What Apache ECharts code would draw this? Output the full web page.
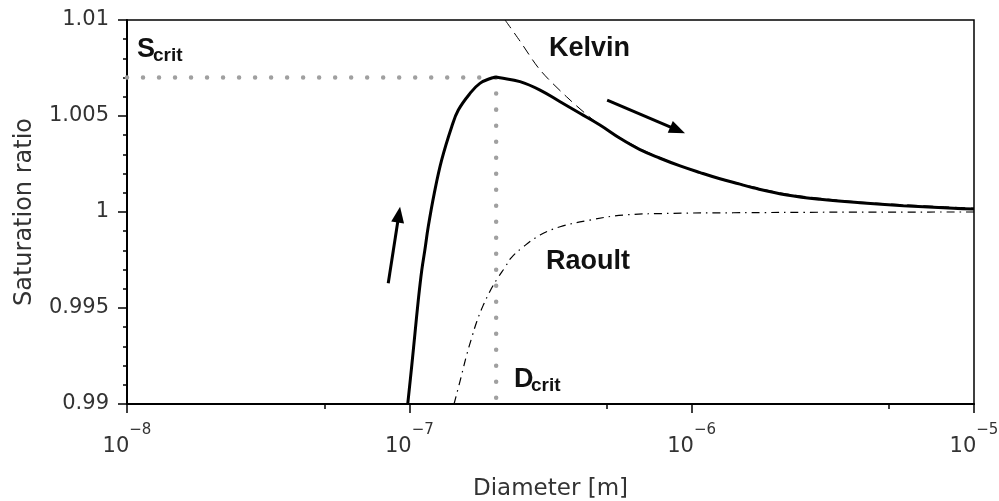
<!DOCTYPE html>
<html lang="en">
<head>
    <meta charset="UTF-8">
    <title>kohler</title>
    <script src="https://cdn.jsdelivr.net/npm/echarts@6/dist/echarts.min.js"></script>
</head>
<body style="margin:0;background:#fff;">
<div id="main" style="width: 999px;height:501px;"></div>
<script type="text/javascript">
    // curve readings: diameter [m] and saturation ratio
    var diamKohler = [9.87e-8, 1.019e-7, 1.047e-7, 1.076e-7, 1.107e-7, 1.135e-7, 1.167e-7, 1.2255e-7, 1.302e-7, 1.413e-7,
        1.491e-7, 1.641e-7, 1.778e-7, 1.958e-7, 2.03e-7, 2.094e-7, 2.466e-7, 2.904e-7, 3.42e-7, 4.018e-7, 4.732e-7,
        5.572e-7, 6.561e-7, 7.727e-7, 9.099e-7, 1.072e-6, 1.259e-6, 1.483e-6, 1.652e-6, 2.173e-6, 2.851e-6, 3.945e-6,
        5.623e-6, 8.45e-6, 1e-5];
    var satKohler = [0.9900, 0.99194, 0.99368, 0.99542, 0.99698, 0.99802, 0.99924, 1.00097, 1.00271, 1.00444,
        1.00531, 1.00618, 1.0067, 1.00698, 1.00702, 1.00699, 1.00679, 1.00635, 1.00574, 1.00514, 1.00453,
        1.00384, 1.00325, 1.0028, 1.0024, 1.00205, 1.00173, 1.00145, 1.00126, 1.00089, 1.00066, 1.00048,
        1.00033, 1.00020, 1.00016];

    var diamKelvin = [2.183e-7, 2.466e-7, 2.904e-7, 3.606e-7, 4.477e-7, 5.26e-7, 6.561e-7, 7.727e-7, 1e-6, 1.5e-6,
        2.173e-6, 3.945e-6, 1e-5];
    var satKelvin = [1.0100, 1.0089, 1.0074, 1.0060, 1.0048, 1.0041, 1.0033, 1.00284, 1.00218, 1.00146,
        1.00094, 1.00052, 1.0002];

    var diamRaoult = [1.44e-7, 1.531e-7, 1.596e-7, 1.671e-7, 1.734e-7, 1.828e-7, 1.959e-7, 2.065e-7, 2.183e-7, 2.29e-7,
        2.535e-7, 2.904e-7, 3.42e-7, 4.365e-7, 5.728e-7, 8.61e-7, 1.403e-6, 3.16e-6, 1e-5];
    var satRaoult = [0.9900, 0.99150, 0.99255, 0.99355, 0.9943, 0.99515, 0.99605, 0.99660, 0.99712, 0.9976,
        0.99819, 0.9988, 0.99923, 0.99958, 0.99984, 0.99993, 0.99996, 0.99999, 1.0];

    var sCrit = 1.007;
    var dCrit = 2.03e-7;

    // arrows: [tail, head] as [diameter, saturation]
    var arrowUp = [[8.42e-8, 0.99629], [9.18e-8, 0.99986]];
    var arrowDown = [[5.02e-7, 1.00583], [8.92e-7, 1.00427]];

    var xMinorTicks = [5e-8, 5e-7, 5e-6];

    function zip(a, b) {
        var out = [];
        for (var i = 0; i < a.length; i++) out.push([a[i], b[i]]);
        return out;
    }

    var myChart = echarts.init(document.getElementById('main'));
    var labelColor = '#333';

    var option = {
        animation: false,
        backgroundColor: '#fff',
        grid: {
            left: 127, right: 25, top: 20, bottom: 97,
            outerBoundsMode: 'none', containLabel: false,
            show: true, borderColor: '#000', borderWidth: 1.5
        },
        xAxis: [
            {
                type: 'log', logBase: 10, min: 1e-8, max: 1e-5,
                name: 'Diameter [m]', nameLocation: 'middle', nameGap: 74,
                nameTextStyle: {fontFamily: 'DejaVu Sans', fontSize: 23, color: labelColor},
                axisLine: {lineStyle: {color: '#000', width: 2}},
                axisTick: {length: 9, lineStyle: {color: '#000', width: 1.5}},
                minorTick: {show: false},
                splitLine: {show: false},
                axisLabel: {
                    margin: 19, fontFamily: 'DejaVu Sans', fontSize: 21, lineHeight: 48, color: labelColor,
                    formatter: function (v) {
                        var e = Math.round(Math.log10(v));
                        return '10{s|\u2212' + (-e) + '}';
                    },
                    rich: {
                        s: {fontFamily: 'DejaVu Sans', fontSize: 15, color: labelColor, lineHeight: 17, verticalAlign: 'top'}
                    }
                }
            },
            {
                type: 'log', logBase: 10, min: 1e-8, max: 1e-5, position: 'bottom',
                axisLine: {show: false},
                axisLabel: {show: false},
                splitLine: {show: false},
                axisTick: {show: true, length: 5, customValues: xMinorTicks, lineStyle: {color: '#000', width: 1.5}}
            }
        ],
        yAxis: {
            type: 'value', min: 0.99, max: 1.01, interval: 0.005,
            name: 'Saturation ratio', nameLocation: 'middle', nameGap: 90,
            nameTextStyle: {fontFamily: 'DejaVu Sans', fontSize: 24, color: labelColor},
            axisLine: {show: true, lineStyle: {color: '#000', width: 2}},
            axisTick: {show: true, length: 9, lineStyle: {color: '#000', width: 1.5}},
            minorTick: {show: true, splitNumber: 5, length: 4, lineStyle: {color: '#000', width: 1.5}},
            splitLine: {show: false},
            axisLabel: {
                margin: 18, fontFamily: 'DejaVu Sans', fontSize: 21, color: labelColor,
                formatter: function (v) { return String(+v.toFixed(3)); }
            }
        },
        series: [
            {
                name: 'Raoult', type: 'line', data: zip(diamRaoult, satRaoult), showSymbol: false, smooth: 0.4,
                lineStyle: {color: '#000', width: 1.2, type: [8, 5, 1.5, 5]}, z: 3
            },
            {
                name: 'Kelvin', type: 'line', data: zip(diamKelvin, satKelvin), showSymbol: false, smooth: 0.3,
                lineStyle: {color: '#000', width: 1, type: [10, 6]}, z: 3
            },
            {
                name: 'Scrit', type: 'line', data: [[1e-8, sCrit], [dCrit, sCrit]], showSymbol: false,
                lineStyle: {color: '#a0a0a0', width: 4.5, cap: 'round', type: [0.01, 16]}, z: 2
            },
            {
                name: 'Dcrit', type: 'line', data: [[dCrit, sCrit], [dCrit, 0.99]], showSymbol: false,
                lineStyle: {color: '#a0a0a0', width: 4.5, cap: 'round', type: [0.01, 16]}, z: 2
            },
            {
                name: 'Kohler', type: 'line', data: zip(diamKohler, satKohler), showSymbol: false, smooth: 0.4,
                lineStyle: {color: '#000', width: 3}, z: 5
            },
            {
                name: 'arrows', type: 'line', data: [],
                markLine: {
                    silent: true, animation: false,
                    symbol: ['none', 'triangle'], symbolSize: [13, 16],
                    label: {show: false},
                    lineStyle: {color: '#000', width: 3, type: 'solid'},
                    data: [
                        [{coord: arrowUp[0]}, {coord: arrowUp[1]}],
                        [{coord: arrowDown[0]}, {coord: arrowDown[1]}]
                    ]
                }
            }
        ],
        graphic: [
            {type: 'text', x: 137, y: 50, style: {text: 'S', font: 'bold 27px "Liberation Sans"', fill: '#111', verticalAlign: 'middle'}},
            {type: 'text', x: 153, y: 56, style: {text: 'crit', font: 'bold 19px "Liberation Sans"', fill: '#111', verticalAlign: 'middle'}},
            {type: 'text', x: 549, y: 49, style: {text: 'Kelvin', font: 'bold 27px "Liberation Sans"', fill: '#111', verticalAlign: 'middle'}},
            {type: 'text', x: 546, y: 262, style: {text: 'Raoult', font: 'bold 27px "Liberation Sans"', fill: '#111', verticalAlign: 'middle'}},
            {type: 'text', x: 514, y: 380, style: {text: 'D', font: 'bold 27px "Liberation Sans"', fill: '#111', verticalAlign: 'middle'}},
            {type: 'text', x: 531, y: 386, style: {text: 'crit', font: 'bold 19px "Liberation Sans"', fill: '#111', verticalAlign: 'middle'}}
        ]
    };
    myChart.setOption(option);
</script>
</body>
</html>
